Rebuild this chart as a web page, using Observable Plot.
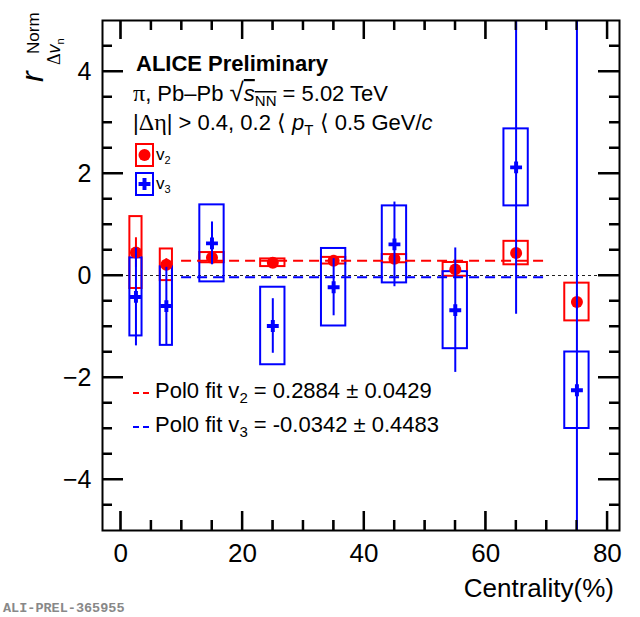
<!DOCTYPE html>
<html><head><meta charset="utf-8">
<script src="https://cdn.jsdelivr.net/npm/d3@7"></script>
<script src="https://cdn.jsdelivr.net/npm/@observablehq/plot@0.6"></script>
<style>
body{margin:0;background:#fff}
#chart{position:relative;width:640px;height:617px}
svg{display:block}
</style>
</head><body><div id="chart"></div>
<script>
// ---- data ----
const centrality    = [2.5, 7.5, 15, 25, 35, 45, 55, 65, 75];
const binHalfWidth  = [1, 1, 2, 2, 2, 2, 2, 2, 2];
const v2            = [0.45, 0.21, 0.35, 0.25, 0.29, 0.33, 0.12, 0.44, -0.52];
const v2Stat        = [0.29, 0.12, 0.08, 0.05, 0.05, 0.06, 0.08, 0.10, 0.15];
const v2Sys         = [0.705, 0.31, 0.10, 0.075, 0.065, 0.08, 0.135, 0.23, 0.37];
const v3            = [-0.42, -0.60, 0.63, -0.99, -0.23, 0.61, -0.68, 2.12, -2.25];
const v3Stat        = [0.96, 0.76, 0.42, 0.535, 0.56, 0.83, 1.22, 2.88, 8.0];
const v3Sys         = [0.765, 0.77, 0.755, 0.76, 0.76, 0.755, 0.755, 0.755, 0.75];
const fitV2 = 0.2884, fitV2Err = 0.0429;
const fitV3 = -0.0342, fitV3Err = 0.4483;
const fitRange = [10, 70];
const xTicks = [0, 20, 40, 60, 80];
const yTicks = [-4, -2, 0, 2, 4];
const xMinor = [5, 10, 15, 25, 30, 35, 45, 50, 55, 65, 70, 75];
const yMinor = [-4.5, -3.5, -3, -2.5, -1.5, -1, -0.5, 0.5, 1, 1.5, 2.5, 3, 3.5, 4.5];

const RED = "#ff0000", BLUE = "#0000ff";
const rows = centrality.map((c, i) => ({
  c, hw: binHalfWidth[i],
  v2: v2[i], v2s: v2Stat[i], v2y: v2Sys[i],
  v3: v3[i], v3s: v3Stat[i], v3y: v3Sys[i]
}));

const W = 640, H = 617, ML = 102, MR = 21, MT = 20, MB = 87;
const innerW = W - ML - MR, innerH = H - MT - MB;
const XDOM = [-3, 82], YDOM = [-5, 5];

const plot = Plot.plot({
  width: W, height: H,
  marginLeft: ML, marginRight: MR, marginTop: MT, marginBottom: MB,
  x: {domain: XDOM},
  y: {domain: YDOM},
  style: {fontFamily: "'Liberation Sans', Arial, sans-serif", background: "white", color: "black"},
  marks: [
    Plot.tickX(xTicks, {x: d => d, insetTop: innerH - 19, stroke: "#000", strokeWidth: 2}),
    Plot.tickX(xMinor, {x: d => d, insetTop: innerH - 10, stroke: "#000", strokeWidth: 2}),
    Plot.tickX(xTicks, {x: d => d, insetBottom: innerH - 19, stroke: "#000", strokeWidth: 2}),
    Plot.tickX(xMinor, {x: d => d, insetBottom: innerH - 10, stroke: "#000", strokeWidth: 2}),
    Plot.tickY(yTicks, {y: d => d, insetRight: innerW - 21, stroke: "#000", strokeWidth: 2}),
    Plot.tickY(yMinor, {y: d => d, insetRight: innerW - 10, stroke: "#000", strokeWidth: 2}),
    Plot.tickY(yTicks, {y: d => d, insetLeft: innerW - 21, stroke: "#000", strokeWidth: 2}),
    Plot.tickY(yMinor, {y: d => d, insetLeft: innerW - 10, stroke: "#000", strokeWidth: 2}),
    Plot.ruleY([0], {stroke: "#222", strokeWidth: 1, strokeDasharray: "3,3"}),
    Plot.rect(rows, {x1: d => d.c - d.hw, x2: d => d.c + d.hw, y1: d => d.v2 - d.v2y, y2: d => d.v2 + d.v2y, fill: "none", stroke: RED, strokeWidth: 2}),
    Plot.rect(rows, {x1: d => d.c - d.hw, x2: d => d.c + d.hw, y1: d => d.v3 - d.v3y, y2: d => d.v3 + d.v3y, fill: "none", stroke: BLUE, strokeWidth: 2}),
    Plot.ruleY([fitV2], {x1: fitRange[0], x2: fitRange[1], stroke: RED, strokeWidth: 2, strokeDasharray: "10,6"}),
    Plot.ruleY([fitV3], {x1: fitRange[0], x2: fitRange[1], stroke: BLUE, strokeWidth: 2, strokeDasharray: "10,6"}),
    Plot.ruleX(rows, {x: "c", y1: d => d.v2 - d.v2s, y2: d => d.v2 + d.v2s, stroke: RED, strokeWidth: 2, clip: true}),
    Plot.dot(rows, {x: "c", y: "v2", r: 6, fill: RED, stroke: "none"}),
    Plot.ruleX(rows, {x: "c", y1: d => d.v3 - d.v3s, y2: d => d.v3 + d.v3s, stroke: BLUE, strokeWidth: 2, clip: true}),
    Plot.dot(rows, {x: "c", y: "v3", symbol: "cross", r: 5, fill: BLUE, stroke: "none"}),
    Plot.frame({stroke: "#000", strokeWidth: 2}),
    Plot.axisX({ticks: xTicks, tickSize: 0, tickPadding: 13, fontSize: 26, label: null}),
    Plot.axisY({ticks: yTicks, tickSize: 0, tickPadding: 11, fontSize: 25, label: null})
  ]
});
document.getElementById("chart").appendChild(plot);

// ---- annotations ----
const svg = d3.select(plot);
const SANS = "'Liberation Sans', Arial, sans-serif";
const SERIF = "'Liberation Serif', 'Times New Roman', serif";
const ann = svg.append("g").attr("font-family", SANS).attr("fill", "black").attr("text-anchor", "start");

ann.append("text").attr("x", 136).attr("y", 71).attr("font-size", 22).attr("font-weight", "bold").text("ALICE Preliminary");

const l2 = ann.append("text").attr("x", 133).attr("y", 101).attr("font-size", 22);
l2.append("tspan").attr("font-family", SERIF).attr("font-size", 24).text("π");
l2.append("tspan").text(", Pb–Pb ");
l2.append("tspan").attr("font-size", 26).attr("font-weight", "100").text("√");
l2.append("tspan").attr("font-style", "italic").attr("text-decoration", "overline").text("s");
l2.append("tspan").attr("font-size", 15).attr("dy", 5).attr("text-decoration", "overline").text("NN");
l2.append("tspan").attr("dy", -5).text(" = 5.02 TeV");

const l3 = ann.append("text").attr("x", 133).attr("y", 130).attr("font-size", 22);
l3.append("tspan").text("|");
l3.append("tspan").attr("font-family", SERIF).attr("font-size", 24).text("Δη");
l3.append("tspan").text("| > 0.4, 0.2 ⟨ ");
l3.append("tspan").attr("font-style", "italic").text("p");
l3.append("tspan").attr("font-size", 15).attr("dy", 5).text("T");
l3.append("tspan").attr("dy", -5).text(" ⟨ 0.5 GeV/");
l3.append("tspan").attr("font-style", "italic").text("c");

// marker legend
ann.append("rect").attr("x", 136).attr("y", 144).attr("width", 17).attr("height", 22).attr("fill", "none").attr("stroke", RED).attr("stroke-width", 2);
ann.append("circle").attr("cx", 144.5).attr("cy", 155).attr("r", 6).attr("fill", RED);
const lv2 = ann.append("text").attr("x", 156).attr("y", 160).attr("font-size", 17);
lv2.append("tspan").text("v");
lv2.append("tspan").attr("font-size", 11).attr("dy", 4).text("2");

ann.append("rect").attr("x", 136).attr("y", 173).attr("width", 17).attr("height", 22).attr("fill", "none").attr("stroke", BLUE).attr("stroke-width", 2);
ann.append("path").attr("transform", "translate(144.5,184)").attr("d", d3.symbol(d3.symbolCross, 5 * 5 * Math.PI)()).attr("fill", BLUE);
const lv3 = ann.append("text").attr("x", 156).attr("y", 189).attr("font-size", 17);
lv3.append("tspan").text("v");
lv3.append("tspan").attr("font-size", 11).attr("dy", 4).text("3");

// fit legend
function fitEntry(y, color, n, val, err) {
  ann.append("line").attr("x1", 133).attr("x2", 152).attr("y1", y - 5).attr("y2", y - 5)
    .attr("stroke", color).attr("stroke-width", 2).attr("stroke-dasharray", "6,4");
  const t = ann.append("text").attr("x", 155).attr("y", y).attr("font-size", 22);
  t.append("tspan").text("Pol0 fit v");
  t.append("tspan").attr("font-size", 15).attr("dy", 5).text(n);
  t.append("tspan").attr("dy", -5).text(` = ${val.toFixed(4)} ± ${err.toFixed(4)}`);
}
fitEntry(398, RED, "2", fitV2, fitV2Err);
fitEntry(432, BLUE, "3", fitV3, fitV3Err);

// axis titles
ann.append("text").attr("x", 614).attr("y", 597).attr("font-size", 26).attr("text-anchor", "end").text("Centrality(%)");

const yl = ann.append("g").attr("transform", "translate(43,82) rotate(-90)");
yl.append("text").attr("x", 0).attr("y", 0).attr("font-size", 32).attr("font-style", "italic").text("r");
yl.append("text").attr("x", 28).attr("y", -4).attr("font-size", 17).text("Norm");
const ysub = yl.append("text").attr("x", 17).attr("y", 17).attr("font-size", 18);
ysub.append("tspan").attr("font-family", SERIF).text("Δ");
ysub.append("tspan").attr("font-style", "italic").text("v");
ysub.append("tspan").attr("font-size", 11).attr("dy", 4).text("n");

ann.append("text").attr("x", 3).attr("y", 612).attr("font-family", "'Liberation Mono', 'DejaVu Sans Mono', monospace")
  .attr("font-size", 13.5).attr("font-weight", "bold").attr("fill", "#888").text("ALI-PREL-365955");

// ---- extra inward ticks drawn last, through the Plot scales ----
const sx = plot.scale("x"), sy = plot.scale("y");
const tg = svg.append("g").attr("stroke", "#000").attr("stroke-width", 2);
const bx = sx.apply(XDOM[0]), ex = sx.apply(XDOM[1]), by = sy.apply(YDOM[0]), ey = sy.apply(YDOM[1]);
xTicks.concat(xMinor).forEach(v => {
  const px = sx.apply(v), len = xTicks.includes(v) ? 19 : 10;
  tg.append("path").attr("d", `M${px},${by}V${by - len}M${px},${ey}V${ey + len}`);
});
yTicks.concat(yMinor).forEach(v => {
  const py = sy.apply(v), len = yTicks.includes(v) ? 21 : 10;
  tg.append("path").attr("d", `M${bx},${py}H${bx + len}M${ex},${py}H${ex - len}`);
});
</script>
</body></html>
